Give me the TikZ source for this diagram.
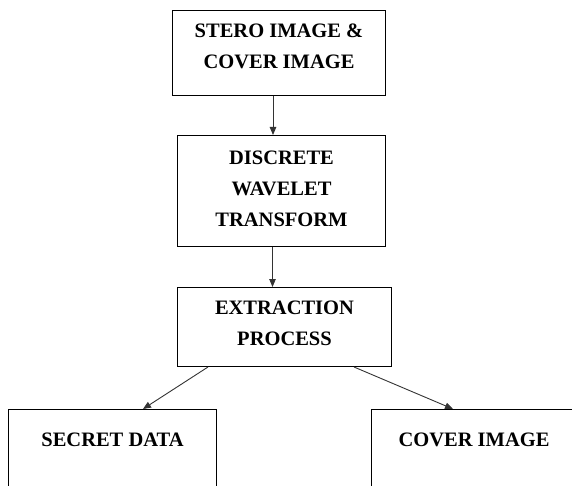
\documentclass[tikz,border=0pt]{standalone}
\usepackage{fontspec}
\setmainfont{Liberation Serif}
\usetikzlibrary{arrows.meta}
\tikzset{%
  stagebox/.style = {shape=rectangle, draw, line width=1pt,%
                     align=center, inner sep=0pt,%
                     font=\bfseries\fontsize{20.5}{31}\selectfont},%
  flow/.style     = {draw=black!80, line width=0.9pt,%
                     -{Triangle[length=8pt,width=6.5pt]}}%
}
\begin{document}
\begin{tikzpicture}[x=1pt,y=-1pt]
	\useasboundingbox (0,0) rectangle (572,486);
	\clip (0,0) rectangle (572,486);
	% top chain
	\node [stagebox, anchor=north west, minimum width=213pt,
		text height=57.7pt, text depth=27.3pt] (stego) at (172,10)
		{STERO IMAGE \&\\COVER IMAGE};
	\node [stagebox, anchor=north west, minimum width=208pt,
		text height=91pt, text depth=20pt] (dwt) at (177,135)
		{DISCRETE\\WAVELET\\TRANSFORM};
	\node [stagebox, anchor=north west, minimum width=214pt,
		text height=58pt, text depth=21pt] (extract) at (177,287)
		{EXTRACTION\\PROCESS};
	% outputs
	\node [stagebox, anchor=north west, minimum width=208pt,
		text height=37pt, text depth=80pt] (secret) at (8,409)
		{SECRET DATA};
	\node [stagebox, anchor=north west, minimum width=205pt,
		text height=37pt, text depth=80pt] (cover) at (371,409)
		{COVER IMAGE};
	\draw [flow] ([xshift=-6pt]stego.south) -- ([xshift=-6pt]stego.south |- dwt.north);
	\draw [flow] ([xshift=-9pt]dwt.south) -- ([xshift=-9pt]dwt.south |- extract.north);
	\draw [flow] ([xshift=31pt]extract.south west) -- ([xshift=135pt]secret.north west);
	\draw [flow] ([xshift=177pt]extract.south west) -- ([xshift=82pt]cover.north west);
\end{tikzpicture}
\end{document}
